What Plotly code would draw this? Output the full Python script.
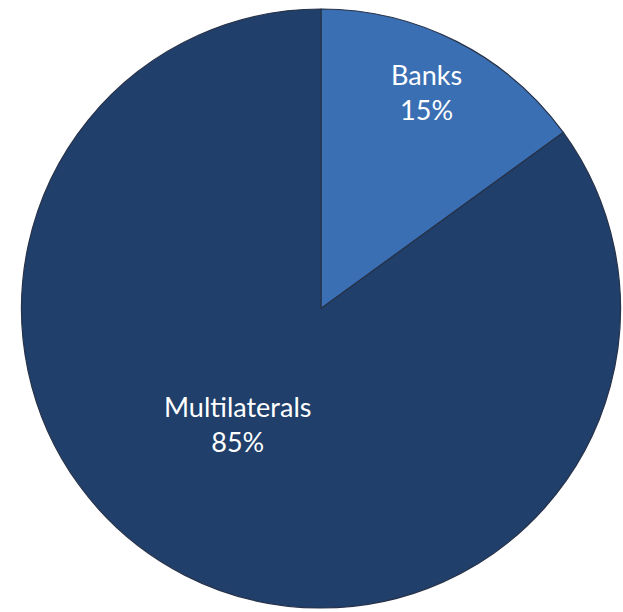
import plotly.graph_objects as go

labels = ["Banks", "Multilaterals"]
values = [15, 85]
colors = ["#3a6fb3", "#203f6b"]

W, H = 623, 612

fig = go.Figure()
fig.add_trace(go.Pie(
    labels=labels,
    values=values,
    sort=False,
    direction="clockwise",
    rotation=0,
    marker=dict(colors=colors, line=dict(color="#26324a", width=1.2)),
    textinfo="none",
    hoverinfo="label+percent",
    showlegend=False,
    domain=dict(x=[21 / W, 621 / W], y=[1 - 608 / H, 1 - 9 / H]),
))

total = sum(values)
label_pos = [(426, 91.5), (237, 423.5)]
for lab, val, (px, py) in zip(labels, values, label_pos):
    fig.add_annotation(
        x=px / W, y=1 - py / H, xref="paper", yref="paper",
        xanchor="center", yanchor="middle",
        text=f"{lab}<br>{round(val / total * 100)}%",
        showarrow=False,
        font=dict(family="Lato, Open Sans, sans-serif", size=27, color="white"),
        align="center",
    )

fig.update_layout(
    width=W, height=H,
    margin=dict(l=0, r=0, t=0, b=0),
    paper_bgcolor="white",
    plot_bgcolor="white",
)
fig.write_html(
    "out.html",
    config={"displayModeBar": False},
    post_script="document.body.style.margin='0';document.body.style.overflow='hidden';",
)
